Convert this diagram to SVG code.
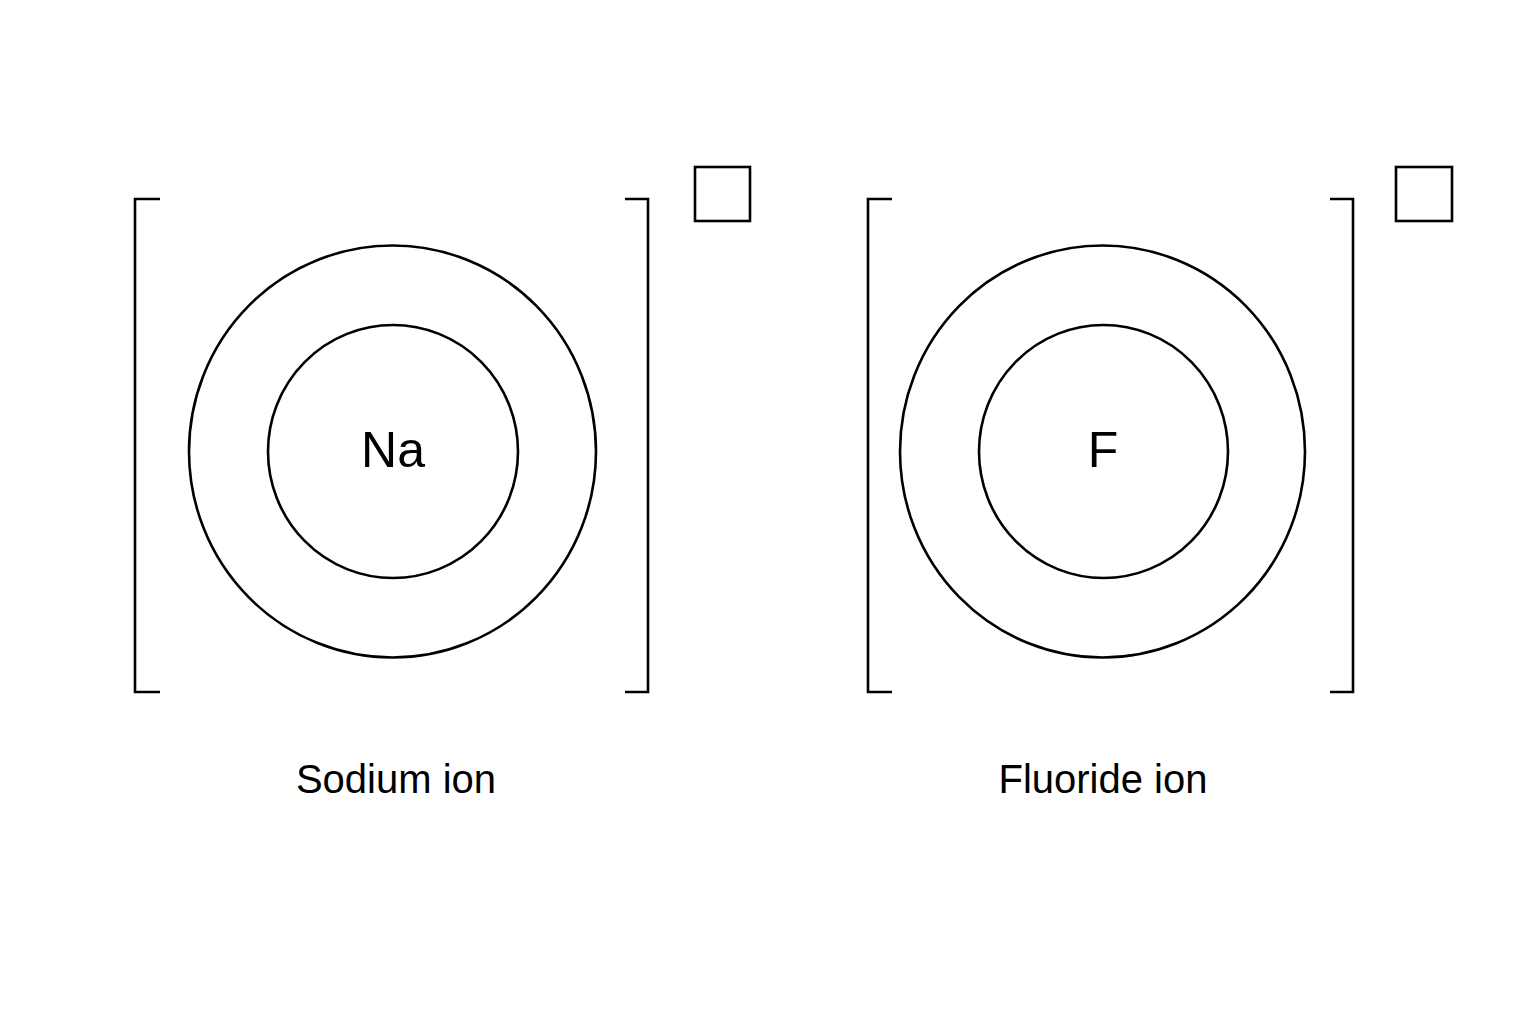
<svg xmlns="http://www.w3.org/2000/svg" width="1536" height="1024" viewBox="0 0 1536 1024">
<style>
.s{fill:none;stroke:#000;stroke-width:2.6}
.t{font-family:"Liberation Sans",Arial,sans-serif;fill:#000;text-anchor:middle}
</style>
<rect width="1536" height="1024" fill="#fff"/>
<g id="sodium">
<path class="s" d="M160 199H135V692H160"/>
<path class="s" d="M625 199H648V692H625"/>
<rect class="s" x="695" y="167" width="55" height="54"/>
<ellipse class="s" cx="392.5" cy="451.5" rx="203.5" ry="206"/>
<ellipse class="s" cx="393" cy="451.5" rx="125" ry="126.5"/>
<text class="t" x="393" y="467" font-size="50">Na</text>
<text class="t" x="396" y="793" font-size="40">Sodium ion</text>
</g>
<g id="fluoride">
<path class="s" d="M892 199H868V692H892"/>
<path class="s" d="M1330 199H1353V692H1330"/>
<rect class="s" x="1396" y="167" width="56" height="54"/>
<ellipse class="s" cx="1102.5" cy="451.5" rx="202.5" ry="206"/>
<ellipse class="s" cx="1103.5" cy="451.5" rx="124.5" ry="126.5"/>
<text class="t" x="1103" y="467" font-size="50">F</text>
<text class="t" x="1103" y="793" font-size="40">Fluoride ion</text>
</g>
<g id="connectors"/>
</svg>
